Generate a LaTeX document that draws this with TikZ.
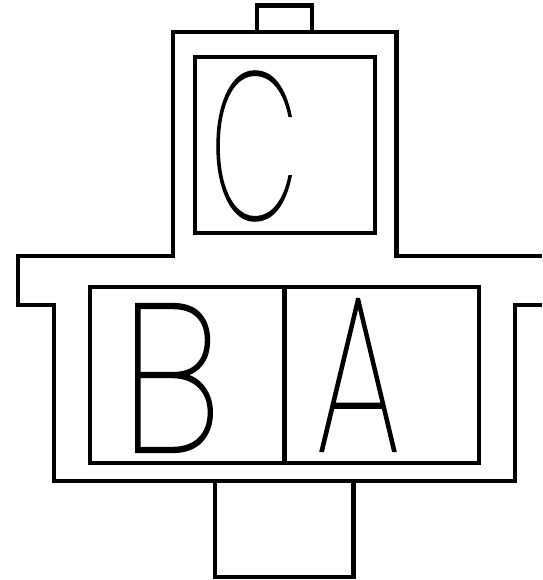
\documentclass[tikz,border=0pt]{standalone}
\usepackage{fontspec}
\usepackage{graphicx}
\newfontfamily\letterfont[FakeBold=1]{Poppins Thin}
\tikzset{
  wall/.style={draw=black,line width=4.7pt,line cap=butt,miter limit=10},
  letternode/.style={inner sep=0pt,outer sep=0pt,anchor=center,font=\letterfont}
}
\begin{document}
\begin{tikzpicture}[x=1pt,y=-1pt]
\useasboundingbox (0,0) rectangle (542,580);
% outer housing
\draw[wall] (542,256) -- (396.5,256) -- (396.5,32) -- (173,32) -- (173,256) -- (18,256) -- (18,305) -- (54,305) -- (54,481) -- (515,481) -- (515,305) -- (542,305);
% tabs
\draw[wall] (257,32) -- (257,5.5) -- (312,5.5) -- (312,32);
\draw[wall] (215,481) -- (215,577) -- (353.5,577) -- (353.5,481);
% inner boxes
\draw[wall] (195,57) rectangle (375,233);
\draw[wall] (90,287) rectangle (479,463);
\draw[wall] (284.5,287) -- (284.5,463);
% letters
\node[letternode] (letterC) at (254,146) {\resizebox{88pt}{148pt}{C}};
\node[letternode] (letterB) at (171,378) {\resizebox{100pt}{148pt}{B}};
\node[letternode] (letterA) at (358,375) {\resizebox{84pt}{152pt}{A}};
\end{tikzpicture}
\end{document}
